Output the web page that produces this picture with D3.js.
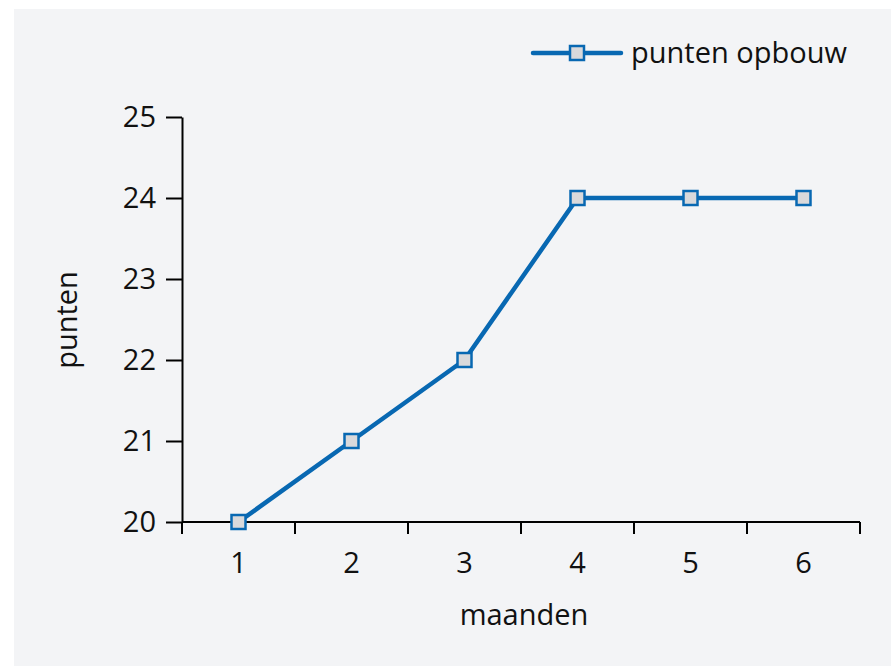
<!DOCTYPE html>
<html>
<head>
<meta charset="utf-8">
<script src="https://cdn.jsdelivr.net/npm/d3@7"></script>
<style>
  body { margin: 0; background: #fff; }
  svg { display: block; font-family: "Open Sans", "Noto Sans", sans-serif; }
</style>
</head>
<body>
<svg id="chart" width="891" height="666"></svg>
<script>
// data
const months = [1, 2, 3, 4, 5, 6];
const points = [20, 21, 22, 24, 24, 24];
const yTicks = [20, 21, 22, 23, 24, 25];
const seriesName = "punten opbouw";

const blue = "#0868b2";
const fs = 29;
const svg = d3.select("#chart");

// grey panel
svg.append("rect")
  .attr("x", 14).attr("y", 9)
  .attr("width", 877).attr("height", 657)
  .attr("fill", "#f3f4f6");

const margin = { left: 182, top: 117, right: 31, bottom: 144 };
const width = 891 - margin.left - margin.right,
  height = 666 - margin.top - margin.bottom;

const x = d3.scaleBand().domain(months).range([0, width]);
const y = d3.scaleLinear().domain([20, 25]).range([height, 0]);

const g = svg.append("g").attr("transform", `translate(${margin.left},${margin.top})`);

// x axis, ticks on band edges
const xAxis = g.append("g").attr("transform", `translate(0,${height})`);
xAxis.append("line")
  .attr("x1", 0).attr("x2", width)
  .attr("stroke", "#000").attr("stroke-width", 2);
const edges = months.map(m => x(m)).concat([width]);
xAxis.selectAll(".edge").data(edges).enter().append("line")
  .attr("x1", d => d).attr("x2", d => d)
  .attr("y1", 0).attr("y2", 12)
  .attr("stroke", "#000").attr("stroke-width", 2);
xAxis.selectAll(".lbl").data(months).enter().append("text")
  .attr("x", d => x(d) + x.bandwidth() / 2)
  .attr("y", 51)
  .attr("text-anchor", "middle")
  .attr("font-size", fs)
  .attr("fill", "#111")
  .text(d => d);

// y axis
const yAxis = g.append("g")
  .call(d3.axisLeft(y).tickValues(yTicks).tickFormat(d3.format("d"))
    .tickSize(16).tickPadding(10).tickSizeOuter(0));
yAxis.select(".domain").attr("stroke-width", 2);
yAxis.selectAll(".tick line").attr("stroke-width", 2);
yAxis.selectAll(".tick text").attr("font-size", fs).attr("fill", "#111")
  .attr("font-family", "\"Open Sans\", \"Noto Sans\", sans-serif");

// axis titles
svg.append("text")
  .attr("x", margin.left + width / 2 + 3).attr("y", 625)
  .attr("text-anchor", "middle").attr("font-size", fs).attr("fill", "#111")
  .text("maanden");
svg.append("text")
  .attr("transform", "translate(77,320) rotate(-90)")
  .attr("text-anchor", "middle").attr("font-size", fs).attr("fill", "#111")
  .text("punten");

// series line
const line = d3.line()
  .x((d, i) => x(months[i]) + x.bandwidth() / 2)
  .y(d => y(d));
g.append("path")
  .datum(points)
  .attr("d", line)
  .attr("fill", "none")
  .attr("stroke", blue)
  .attr("stroke-width", 4.5);

g.selectAll(".pt").data(points).enter().append("rect")
  .attr("x", (d, i) => x(months[i]) + x.bandwidth() / 2 - 7)
  .attr("y", d => y(d) - 7)
  .attr("width", 14).attr("height", 14)
  .attr("fill", "#d9d9db")
  .attr("stroke", blue).attr("stroke-width", 2.5);

// legend
const lg = svg.append("g").attr("transform", "translate(533,53)");
lg.append("line").attr("x1", 0).attr("x2", 88)
  .attr("stroke", blue).attr("stroke-width", 4.5).attr("stroke-linecap", "round");
lg.append("rect").attr("x", 37).attr("y", -7).attr("width", 14).attr("height", 14)
  .attr("fill", "#d9d9db").attr("stroke", blue).attr("stroke-width", 2.5);
lg.append("text").attr("x", 98).attr("y", 10)
  .attr("font-size", fs).attr("fill", "#111")
  .text(seriesName);
</script>
</body>
</html>
